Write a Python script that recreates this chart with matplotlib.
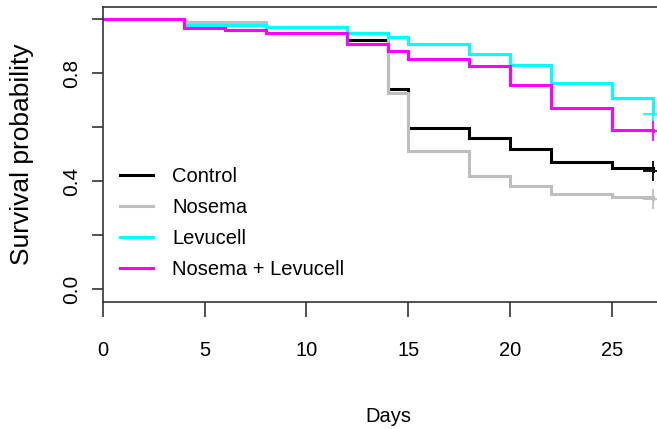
import matplotlib
matplotlib.use("Agg")
import matplotlib.pyplot as plt
from matplotlib.lines import Line2D

# ---- data ----
days = [0, 4, 6, 8, 12, 14, 15, 18, 20, 22, 25, 27]
control = [1.0, 0.988, 0.981, 0.970, 0.922, 0.739, 0.598, 0.559, 0.519, 0.470, 0.448, 0.437]
nosema = [1.0, 0.988, 0.988, 0.970, 0.948, 0.726, 0.511, 0.419, 0.381, 0.352, 0.341, 0.333]
levucell = [1.0, 0.978, 0.978, 0.970, 0.948, 0.935, 0.907, 0.870, 0.830, 0.763, 0.707, 0.648]
nos_lev = [1.0, 0.967, 0.959, 0.948, 0.909, 0.880, 0.850, 0.826, 0.756, 0.670, 0.589, 0.585]
groups = ["Control", "Nosema", "Levucell", "Nosema + Levucell"]
colors = ["#000000", "#BEBEBE", "#00FFFF", "#FF00FF"]
xticks = [0, 5, 10, 15, 20, 25]
yticks = [0.0, 0.2, 0.4, 0.6, 0.8, 1.0]
ytick_labels = ["0.0", "", "0.4", "", "0.8", ""]

narrow = ["Liberation Sans Narrow", "Liberation Sans", "DejaVu Sans"]
regular = ["Liberation Sans", "DejaVu Sans"]
hsize = 14.5

W, H = 657, 429
fig = plt.figure(figsize=(W / 100, H / 100), dpi=100)
left_px, right_px, top_px, bot_px = 102.8, 673.0, 7.0, 302.0
ax = fig.add_axes([left_px / W, 1 - bot_px / H, (right_px - left_px) / W, (bot_px - top_px) / H])

series = [control, nosema, levucell, nos_lev]
for vals, col, name in zip(series, colors, groups):
    ax.step(days, vals, where="post", color=col, lw=2.2, label=name, solid_joinstyle="miter")
    ax.plot([days[-1]], [vals[-1]], marker="+", color=col, ms=14, mew=1.3, ls="none")

ax.set_xlim(0, 28)
ax.set_ylim(-0.048, 1.0444)

for sp in ax.spines.values():
    sp.set_color("#333333")
    sp.set_linewidth(1.2)

ax.set_xticks(xticks)
ax.set_xticklabels([str(t) for t in xticks], fontfamily=narrow, fontsize=hsize)
ax.set_yticks(yticks)
ax.set_yticklabels(ytick_labels, fontfamily=regular, fontsize=15, rotation=90, va="center")
ax.tick_params(axis="x", length=10.8, width=1.2, color="#333333", pad=17.5)
ax.tick_params(axis="y", length=7.9, width=1.2, color="#333333", pad=7.5)

ax.set_xlabel("Days", fontfamily=narrow, fontsize=hsize)
ax.xaxis.set_label_coords(0.5, -0.355)
ax.set_ylabel("Survival probability", fontfamily=regular, fontsize=19)
ax.yaxis.set_label_coords(-0.1207, 0.5)

handles = [Line2D([], [], color=c, lw=2.2) for c in colors]
leg = ax.legend(handles, groups, loc="upper left",
                bbox_to_anchor=(120 / W, 1 - 167 / H), bbox_transform=fig.transFigure,
                frameon=False, prop={"family": narrow, "size": hsize},
                handlelength=1.64, handletextpad=0.95, labelspacing=0.6,
                borderpad=0, borderaxespad=0)

fig.savefig("out.png", dpi=100)
